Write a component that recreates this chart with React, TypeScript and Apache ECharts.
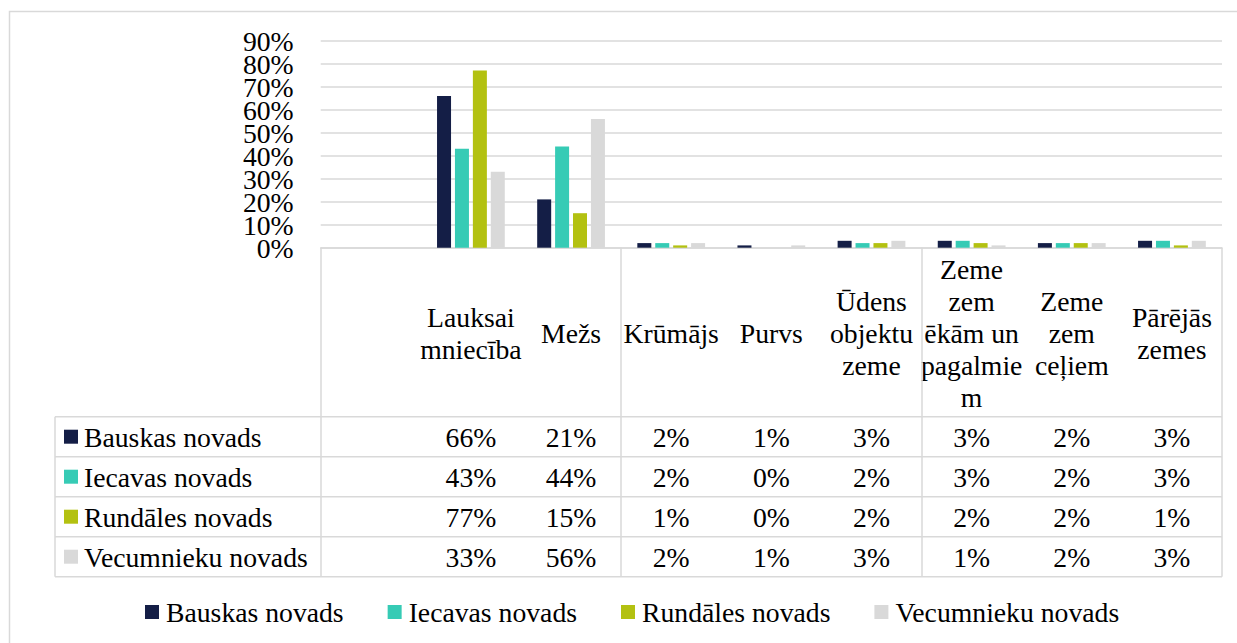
import React, { useEffect, useRef } from 'react';
import * as echarts from 'echarts';

const FONT = "'Times New Roman', 'Liberation Serif', serif";

const categories = ['', 'Lauksaimniecība', 'Mežs', 'Krūmājs', 'Purvs', 'Ūdens objektu zeme', 'Zeme zem ēkām un pagalmiem', 'Zeme zem ceļiem', 'Pārējās zemes'];
const categoryLines = [[], ['Lauksai', 'mniecība'], ['Mežs'], ['Krūmājs'], ['Purvs'], ['Ūdens', 'objektu', 'zeme'], ['Zeme', 'zem', 'ēkām un', 'pagalmie', 'm'], ['Zeme', 'zem', 'ceļiem'], ['Pārējās', 'zemes']];

const seriesNames = ['Bauskas novads', 'Iecavas novads', 'Rundāles novads', 'Vecumnieku novads'];
const colors = ['#141e46', '#36cbb5', '#b3c111', '#d9d9d9'];

const bauskas = [66, 21, 2, 1, 3, 3, 2, 3];
const iecavas = [43, 44, 2, 0, 2, 3, 2, 3];
const rundales = [77, 15, 1, 0, 2, 2, 2, 1];
const vecumnieku = [33, 56, 2, 1, 3, 1, 2, 3];
const seriesValues = [bauskas, iecavas, rundales, vecumnieku];

const yTicks = [0, 10, 20, 30, 40, 50, 60, 70, 80, 90];

const GRID_COLOR = '#d9d9d9';
const FS = 27.7;

export default function App() {
  const ref = useRef<HTMLDivElement>(null);
  useEffect(() => {
    const chart = echarts.init(ref.current!, null, { renderer: 'svg' });
    const headerH = 169;
    const rowH = 40;
    const option: any = {
      animation: false,
      grid: { left: 320.7, right: 15, top: 40.7, bottom: 395.3, containLabel: false },
      legend: {
        data: seriesNames,
        left: 140,
        top: 593,
        icon: 'rect',
        itemWidth: 14,
        itemHeight: 14,
        itemGap: 44,
        textStyle: { fontFamily: FONT, fontSize: FS, color: '#000', padding: [0, 0, 0, 2] },
      },
      xAxis: {
        type: 'category',
        data: categories,
        boundaryGap: true,
        axisLine: { show: true, lineStyle: { color: GRID_COLOR, width: 1.5 } },
        axisTick: { show: true, length: headerH + rowH * 4, lineStyle: { color: GRID_COLOR, width: 1.5 } },
        axisLabel: { show: false },
      },
      yAxis: {
        type: 'value',
        min: yTicks[0],
        max: yTicks[yTicks.length - 1],
        interval: 10,
        axisLine: { show: false },
        axisTick: { show: false },
        splitLine: { lineStyle: { color: GRID_COLOR, width: 1.5 } },
        axisLabel: { show: false },
      },
      series: seriesNames.map((name, si) => ({
        name,
        type: 'bar',
        data: [null, ...seriesValues[si]],
        barWidth: 14,
        barGap: '28%',
        itemStyle: { color: colors[si] },
      })),
    };
    chart.setOption(option);

    const xs = categories.map((_, i) => chart.convertToPixel({ xAxisIndex: 0 }, i) as number);
    const colW = xs[1] - xs[0];
    const y0 = chart.convertToPixel({ yAxisIndex: 0 }, 0) as number;
    const leftX = xs[0] - colW / 2;
    const rightX = xs[xs.length - 1] + colW / 2;
    const tableLeft = 55;
    const headerBottom = y0 + headerH;
    const lineStyle = { stroke: GRID_COLOR, lineWidth: 1.5 };
    const els: any[] = [];

    els.push({ type: 'rect', shape: { x: 9.5, y: 11.5, width: 1400, height: 800 }, style: { fill: 'none', stroke: GRID_COLOR, lineWidth: 1.5 }, z: -1 });

    // y-axis tick labels (drawn from the axis scale)
    yTicks.forEach((t) => {
      const y = chart.convertToPixel({ yAxisIndex: 0 }, t) as number;
      els.push({
        type: 'text',
        x: leftX - 27,
        y: y + 1,
        style: { text: t + '%', fontFamily: FONT, fontSize: FS, fill: '#000', align: 'right', verticalAlign: 'middle' },
      });
    });

    categoryLines.forEach((lines, i) => {
      if (!lines.length) return;
      els.push({
        type: 'text',
        x: xs[i],
        y: (y0 + headerBottom) / 2 + 1,
        style: { text: lines.join('\n'), fontFamily: FONT, fontSize: FS, lineHeight: 32, fill: '#000', align: 'center', verticalAlign: 'middle' },
      });
    });

    for (let r = 0; r <= seriesNames.length; r++) {
      const y = headerBottom + r * rowH;
      els.push({ type: 'line', shape: { x1: tableLeft, y1: y, x2: rightX, y2: y }, style: lineStyle });
    }
    els.push({ type: 'line', shape: { x1: tableLeft, y1: headerBottom, x2: tableLeft, y2: headerBottom + rowH * seriesNames.length }, style: lineStyle });

    seriesNames.forEach((name, si) => {
      const cy = headerBottom + si * rowH + rowH / 2;
      els.push({ type: 'rect', shape: { x: 64, y: cy - 7, width: 14, height: 14 }, style: { fill: colors[si] } });
      els.push({ type: 'text', x: 84, y: cy + 1, style: { text: name, fontFamily: FONT, fontSize: FS, fill: '#000', align: 'left', verticalAlign: 'middle' } });
      seriesValues[si].forEach((v, ci) => {
        els.push({ type: 'text', x: xs[ci + 1], y: cy + 1, style: { text: v + '%', fontFamily: FONT, fontSize: FS, fill: '#000', align: 'center', verticalAlign: 'middle' } });
      });
    });

    chart.setOption({ graphic: els });
    return () => chart.dispose();
  }, []);
  return <div ref={ref} style={{ position: 'fixed', left: 0, top: 0, width: 1237, height: 643, background: '#fff' }} />;
}
